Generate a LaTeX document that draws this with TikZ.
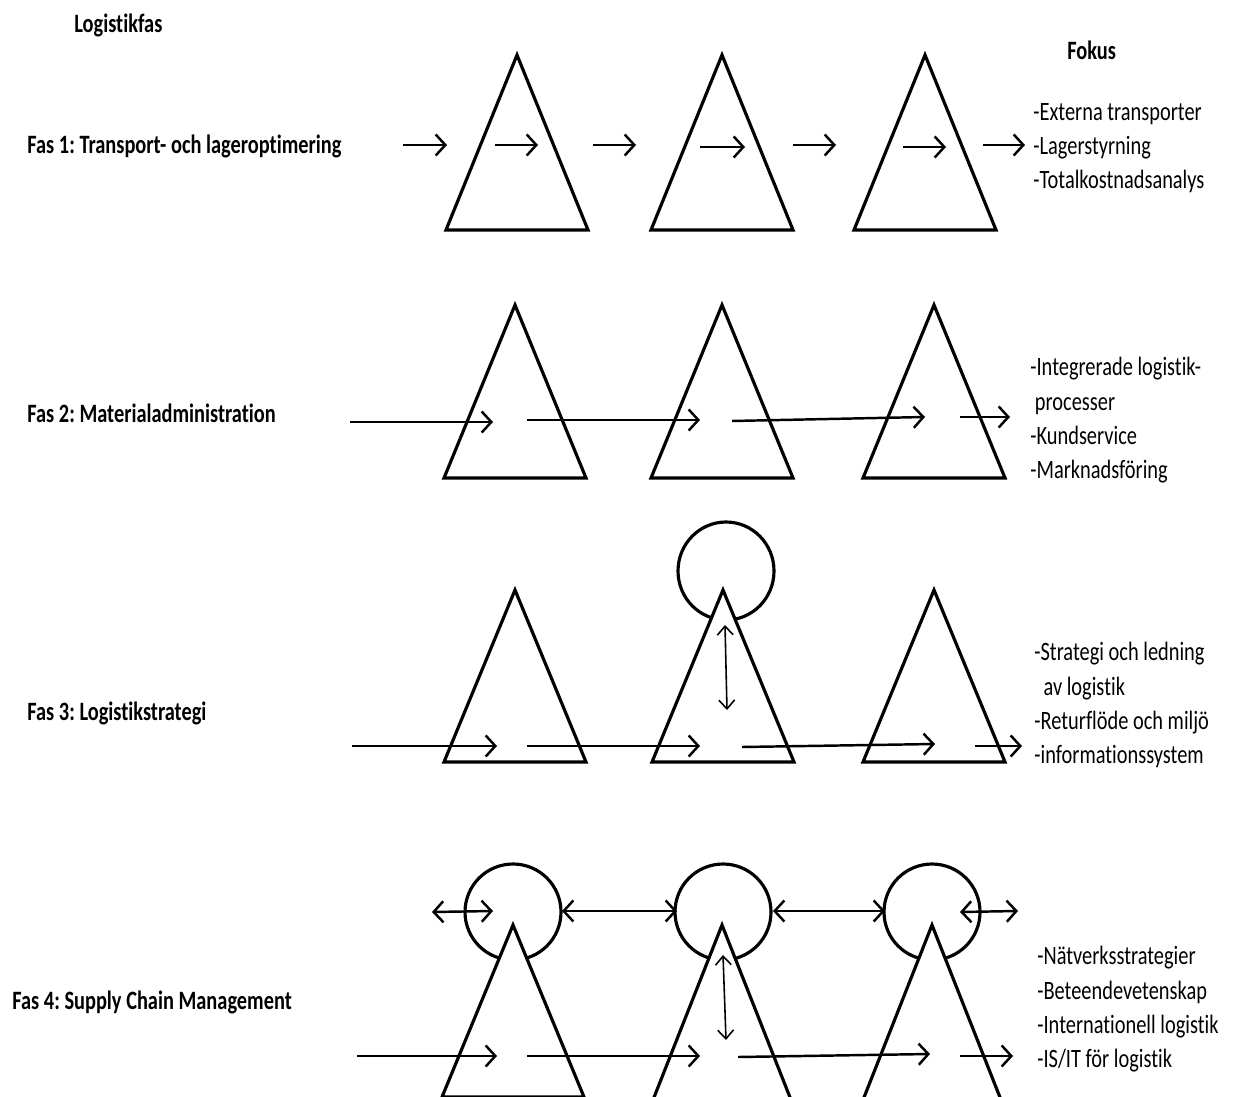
\documentclass[tikz,border=0pt]{standalone}
\usepackage{fontspec}
\setmainfont{Carlito}[RawFeature=-liga]
\frenchspacing
\usetikzlibrary{arrows.meta}

\tikzset{
  tri/.style={draw,line width=1.8pt,fill=white,line join=miter},
  ring/.style={draw,line width=1.8pt},
  flow/.style={line width=1.4pt,-{Straight Barb[length=5.5pt,width=12pt,line width=1.4pt]}},
  both/.style={line width=1.4pt,{Straight Barb[length=5.5pt,width=12pt,line width=1.4pt]}-{Straight Barb[length=5.5pt,width=12pt,line width=1.4pt]}},
  updown/.style={line width=0.9pt,{Straight Barb[length=5pt,width=9pt]}-{Straight Barb[length=5pt,width=9pt]}},
  fas/.style={font=\bfseries\fontsize{11.6}{13}\selectfont,anchor=west,inner sep=0pt,yscale=1.3,transform shape},
  punkt/.style={font=\fontsize{11.6}{15}\selectfont,anchor=north west,align=left,inner sep=0pt,yscale=1.3,transform shape}
}
% apex x, apex y, base y
\newcommand{\tri}[3]{\draw[tri] (#1,#2) -- (#1-71,#3) -- (#1+71,#3) -- cycle;}

\begin{document}
\begin{tikzpicture}[x=0.02cm,y=-0.02cm]
\clip (0,0) rectangle (1239,1097);

% headings
\node[fas] (rubrik) at (74,25) {Logistikfas};
\node[fas] (fokus) at (1067,50) {Fokus};

% Fas 1
\node[fas] (fas1) at (27,146) {Fas 1: Transport- och lageroptimering};
\tri{517}{55}{230}
\tri{722}{55}{230}
\tri{925}{55}{230}
\draw[flow] (403,145) -- (447,145);
\draw[flow] (495,145) -- (538,145);
\draw[flow] (593,145) -- (636,145);
\draw[flow] (700,147) -- (745,147);
\draw[flow] (793,145) -- (836,145);
\draw[flow] (903,147) -- (946,147);
\draw[flow] (983,145) -- (1025,145);
\node[punkt] (fokus1) at (1033,103) {-Externa transporter\\-Lagerstyrning\\-Totalkostnadsanalys};

% Fas 2
\node[fas] (fas2) at (27,413) {Fas 2: Materialadministration};
\tri{515}{305}{478}
\tri{722}{305}{478}
\tri{934}{305}{478}
\draw[flow] (350,422) -- (493,422);
\draw[flow] (527,420) -- (700,420);
\draw[flow] (732,421) -- (925,417);
\draw[flow] (960,417) -- (1010,417);
\node[punkt] (fokus2) at (1030,357) {-Integrerade logistik-\\\ processer\\-Kundservice\\-Marknadsföring};

% Fas 3
\node[fas] (fas3) at (27,713) {Fas 3: Logistikstrategi};
\draw[ring] (726,571) ellipse (48 and 49);
\tri{515}{590}{762}
\tri{723}{590}{762}
\tri{934}{590}{762}
\draw[updown] (725,625) -- (727,710);
\draw[flow] (352,746) -- (497,746);
\draw[flow] (527,746) -- (700,746);
\draw[flow] (742,747) -- (935,744);
\draw[flow] (975,746) -- (1022,746);
\node[punkt] (fokus3) at (1034,642) {-Strategi och ledning\\\ \ av logistik\\-Returflöde och miljö\\-informationssystem};

% Fas 4
\node[fas] (fas4) at (12,1002) {Fas 4: Supply Chain Management};
\draw[ring] (513,912) ellipse (48 and 48);
\draw[ring] (723,912) ellipse (48 and 48);
\draw[ring] (932,912) ellipse (48 and 48);
\tri{513}{925}{1097}
\tri{722}{925}{1105}
\tri{932}{925}{1105}
\draw[both] (432,912) -- (493,911);
\draw[both] (562,911) -- (677,911);
\draw[both] (773,911) -- (885,911);
\draw[both] (960,912) -- (1018,911);
\draw[updown] (723,955) -- (726,1040);
\draw[flow] (357,1056) -- (497,1056);
\draw[flow] (527,1056) -- (700,1056);
\draw[flow] (738,1057) -- (930,1054);
\draw[flow] (960,1056) -- (1013,1056);
\node[punkt] (fokus4) at (1037,946) {-Nätverksstrategier\\-Beteendevetenskap\\-Internationell logistik\\-IS/IT för logistik};
\end{tikzpicture}
\end{document}
